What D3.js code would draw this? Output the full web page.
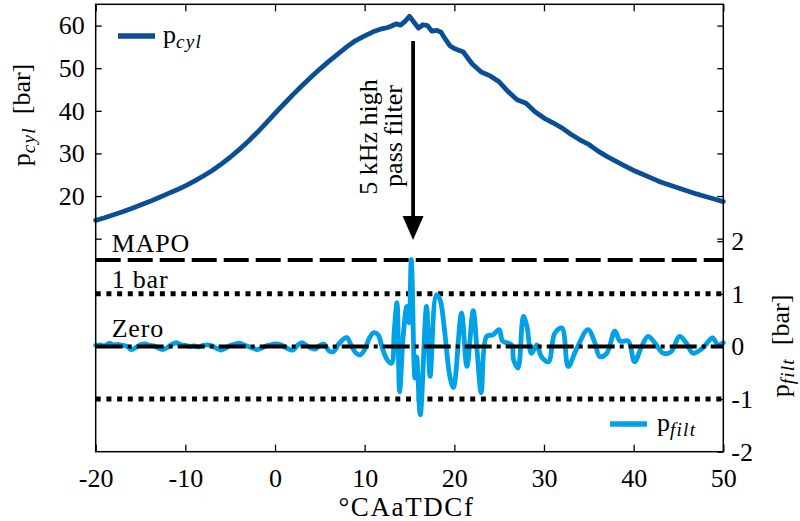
<!DOCTYPE html>
<html>
<head>
<meta charset="utf-8">
<script src="https://cdn.jsdelivr.net/npm/d3@7"></script>
<style>
  body { margin: 0; background: #fff; }
  text { font-family: 'Liberation Serif', 'Times New Roman', serif; fill: #000; }
</style>
</head>
<body>
<svg id="chart" width="800" height="521"></svg>
<script>
// cylinder pressure [bar] vs crank angle
const pcylAngle = [-20,-19,-18,-17,-16,-15,-14,-13,-12,-11,-10,-9,-8,-7,-6,-5,-4,-3,-2,-1,0,1,2,3,4,5,6,7,8,9,10,11,12,12.5,13,13.5,14,14.5,15,15.5,16,16.5,17,17.5,18,18.5,19,19.5,20,21,22,23,24,25,26,27,28,29,30,31,32,33,34,35,36,37,38,39,40,41,42,43,44,45,46,47,48,49,50]
const pcylValue = [14.3,14.9,15.6,16.3,17.1,17.9,18.7,19.6,20.5,21.4,22.4,23.5,24.7,26.0,27.5,29.1,30.9,32.8,34.9,37.1,39.4,41.6,43.8,45.9,47.9,49.8,51.6,53.3,55.0,56.5,57.6,58.6,59.3,59.5,59.9,60.4,60.1,61.0,62.2,60.8,59.4,60.2,60.0,58.7,58.9,58.5,56.8,55.3,54.6,53.8,51.0,49.1,48.2,46.8,44.5,42.6,41.8,39.8,38.3,37.2,36.0,34.5,33.2,32.1,30.6,29.3,28.2,27.1,26.0,25.1,24.2,23.3,22.6,21.9,21.2,20.5,19.9,19.3,18.7]

// high-pass filtered pressure [bar]
const pfiltAngle = [-20,-19.5,-19,-18.5,-18,-17.5,-17,-16.5,-16,-15.5,-15,-14.5,-14,-13.5,-13,-12.5,-12,-11.5,-11,-10.5,-10,-9.5,-9,-8.5,-8,-7.5,-7,-6.5,-6,-5.5,-5,-4.5,-4,-3.5,-3,-2.5,-2,-1.5,-1,-0.5,0,0.5,1,1.5,2,2.5,3,3.5,4,4.5,5,5.5,6,6.5,7,7.5,8,8.5,9,9.5,10,10.5,11,11.5,12,12.5,13,13.3,13.6,13.9,14.3,14.7,14.95,15.2,15.6,15.8,16.2,16.9,17.3,18.0,18.4,18.9,19.5,19.9,20.8,21.4,22.1,22.5,23.0,23.6,24.3,25.0,25.4,26.4,26.6,27.1,27.7,28.1,28.6,29.2,29.7,30.5,31.2,32.0,32.7,33.6,34.9,35.7,36.2,37.0,37.9,38.5,39.4,40.1,40.9,41.6,42.4,43.3,44.2,45.1,45.9,46.6,47.7,48.8,49.4,50]
const pfiltValue = [0.02,0.03,0.01,0.06,0.03,0.04,0.02,0.0,-0.06,-0.02,0.03,0.05,0.02,0.01,-0.03,-0.06,-0.02,0.04,0.07,0.03,0.02,0.0,0.01,-0.01,0.02,0.03,0.01,-0.04,-0.07,-0.03,0.02,0.04,0.06,0.03,0.0,-0.03,-0.06,-0.03,0.01,0.03,0.05,0.04,0.0,-0.05,-0.07,0.02,0.07,0.02,-0.03,-0.05,0.02,0.04,-0.08,-0.1,0.02,0.12,0.17,0.02,-0.12,-0.16,-0.06,0.15,0.26,0.22,-0.05,-0.25,-0.32,0.3,0.83,-0.86,0.2,0.76,0.45,1.65,-0.6,-0.2,-1.3,0.76,-0.57,0.98,0.89,0.32,-0.57,-0.78,0.63,-0.38,0.68,0.0,-0.88,0.19,0.22,0.32,0.1,0.03,-0.25,-0.41,0.57,0.38,-0.13,0.03,-0.19,-0.29,0.25,0.35,-0.38,-0.06,0.32,0.06,-0.19,-0.13,0.29,0.1,0.1,-0.29,0.0,0.19,0.06,-0.13,-0.1,0.19,0.06,-0.13,-0.03,0.16,0.03,0.07]

const xTicks = [-20,-10,0,10,20,30,40,50]
const leftTicks = [10,20,30,40,50,60]
const rightTicks = [-2,-1,0,1,2]

// reference levels on the filtered axis
const refNames = ['MAPO','1 bar','Zero','']
const refLevels = [1.64,1,0,-1]

const svg = d3.select('#chart')
const L = 95.7, R = 723.3, T = 4.3, B = 451.7

const x = d3.scaleLinear().domain([-20,50]).range([L,R])
const yL = d3.scaleLinear().domain([-40,65]).range([B,T])
const yR = d3.scaleLinear().domain([-2,6.5]).range([B,T])

const fmt = d => String(d)  // plain hyphen minus like the original

const cylColor = '#0a4f96'
const filtColor = '#00a1e6'

// cylinder pressure
const cylLine = d3.line().x((d,i) => x(pcylAngle[i])).y(d => yL(d))
svg.append('path')
  .attr('d', cylLine(pcylValue))
  .attr('fill','none').attr('stroke',cylColor).attr('stroke-width',4.8)
  .attr('stroke-linejoin','round').attr('stroke-linecap','round')

// reference lines
const dashes = ['25,7','5,5.7','27,5,4,5','5,5.7']
const widths = [4,5,4,5]
const plain = [0,1,3]
plain.forEach(i => {
  svg.append('line')
    .attr('x1',L).attr('x2',R).attr('y1',yR(refLevels[i])).attr('y2',yR(refLevels[i]))
    .attr('stroke','#000').attr('stroke-width',widths[i]).attr('stroke-dasharray',dashes[i])
})

// filtered pressure
const filtLine = d3.line().x((d,i) => x(pfiltAngle[i])).y(d => yR(d)).curve(d3.curveCatmullRom.alpha(0.5))
svg.append('path')
  .attr('d', filtLine(pfiltValue))
  .attr('fill','none').attr('stroke',filtColor).attr('stroke-width',4.8)
  .attr('stroke-linejoin','round').attr('stroke-linecap','round')

// zero line on top
svg.append('line')
  .attr('x1',L).attr('x2',R).attr('y1',yR(0)).attr('y2',yR(0))
  .attr('stroke','#000').attr('stroke-width',widths[2]).attr('stroke-dasharray',dashes[2])

// level labels
const labelY = [252, 288, 337]
refNames.slice(0,3).forEach((n,i) => {
  svg.append('text').attr('x',L+16).attr('y',labelY[i]).attr('font-size',26)
    .attr('letter-spacing',0.8).text(n)
})

// arrow annotation
const ax = x(15.4)
svg.append('line').attr('x1',ax).attr('x2',ax).attr('y1',41).attr('y2',220)
  .attr('stroke','#000').attr('stroke-width',3.8)
svg.append('path')
  .attr('d', `M${ax-10.5},216 L${ax+10.5},216 L${ax},240 Z`)
  .attr('fill','#000')
const note = svg.append('g')
note.append('text').attr('transform',`translate(377,137) rotate(-90)`)
  .attr('text-anchor','middle').attr('font-size',26).text('5 kHz high')
note.append('text').attr('transform',`translate(402,136) rotate(-90)`)
  .attr('text-anchor','middle').attr('font-size',26).text('pass filter')

// axes
const xAxis = svg.append('g').attr('transform',`translate(0,${B})`)
  .call(d3.axisBottom(x).tickValues(xTicks).tickFormat(fmt).tickSizeInner(-7).tickSizeOuter(0))
xAxis.selectAll('text').attr('y',35).attr('dy',0).attr('font-size',26)

svg.append('g').attr('transform',`translate(0,${T})`)
  .call(d3.axisTop(x).tickValues(xTicks).tickFormat('').tickSizeInner(-7).tickSizeOuter(0))

const lAxis = svg.append('g').attr('transform',`translate(${L},0)`)
  .call(d3.axisLeft(yL).tickValues(leftTicks).tickFormat(d => d >= 20 ? fmt(d) : '').tickSizeInner(-6).tickSizeOuter(0).tickPadding(11))
lAxis.selectAll('text').attr('font-size',26).attr('dy','0.32em')

svg.append('g').attr('transform',`translate(${R},0)`)
  .call(d3.axisRight(yL).tickValues(leftTicks).tickFormat('').tickSizeInner(-6).tickSizeOuter(0))

const rAxis = svg.append('g').attr('transform',`translate(${R},0)`)
  .call(d3.axisRight(yR).tickValues(rightTicks).tickFormat(fmt).tickSizeInner(-6).tickSizeOuter(0).tickPadding(8))
rAxis.selectAll('text').attr('font-size',26).attr('dy','0.32em')

svg.selectAll('.domain').remove()
svg.selectAll('.tick line').attr('stroke','#000').attr('stroke-width',1.3)
svg.selectAll('.tick text').attr('font-family',"'Liberation Serif', serif")

// frame
svg.append('rect').attr('x',L).attr('y',T).attr('width',R-L).attr('height',B-T)
  .attr('fill','none').attr('stroke','#000').attr('stroke-width',1.5)

// axis titles
function subLabel(sel, sub, rest, size) {
  sel.append('tspan').text('p')
  sel.append('tspan').attr('font-style','italic').attr('font-size',size*0.74)
    .attr('letter-spacing',1.2).attr('dy',size*0.2).text(sub)
  if (rest) sel.append('tspan').attr('dy',-size*0.2).text(rest)
}
const yTitleL = svg.append('text').attr('transform','translate(30,115) rotate(-90)')
  .attr('text-anchor','middle').attr('font-size',26)
subLabel(yTitleL,'cyl','\u2002[bar]',26)
const yTitleR = svg.append('text').attr('transform','translate(789,346) rotate(-90)')
  .attr('text-anchor','middle').attr('font-size',26)
subLabel(yTitleR,'filt','\u2002[bar]',26)

svg.append('text').attr('x',(L+R)/2 - 3).attr('y',516).attr('text-anchor','middle')
  .attr('font-size',27).attr('letter-spacing',1.6).text('\u00b0CAaTDCf')

// legends
svg.append('line').attr('x1',118).attr('x2',155).attr('y1',36).attr('y2',36)
  .attr('stroke',cylColor).attr('stroke-width',5.5)
const lg1 = svg.append('text').attr('x',163).attr('y',43).attr('font-size',26)
subLabel(lg1,'cyl','',26)
svg.append('line').attr('x1',610).attr('x2',647).attr('y1',424).attr('y2',424)
  .attr('stroke',filtColor).attr('stroke-width',5.5)
const lg2 = svg.append('text').attr('x',657).attr('y',431).attr('font-size',26)
subLabel(lg2,'filt','',26)
</script>
</body>
</html>
